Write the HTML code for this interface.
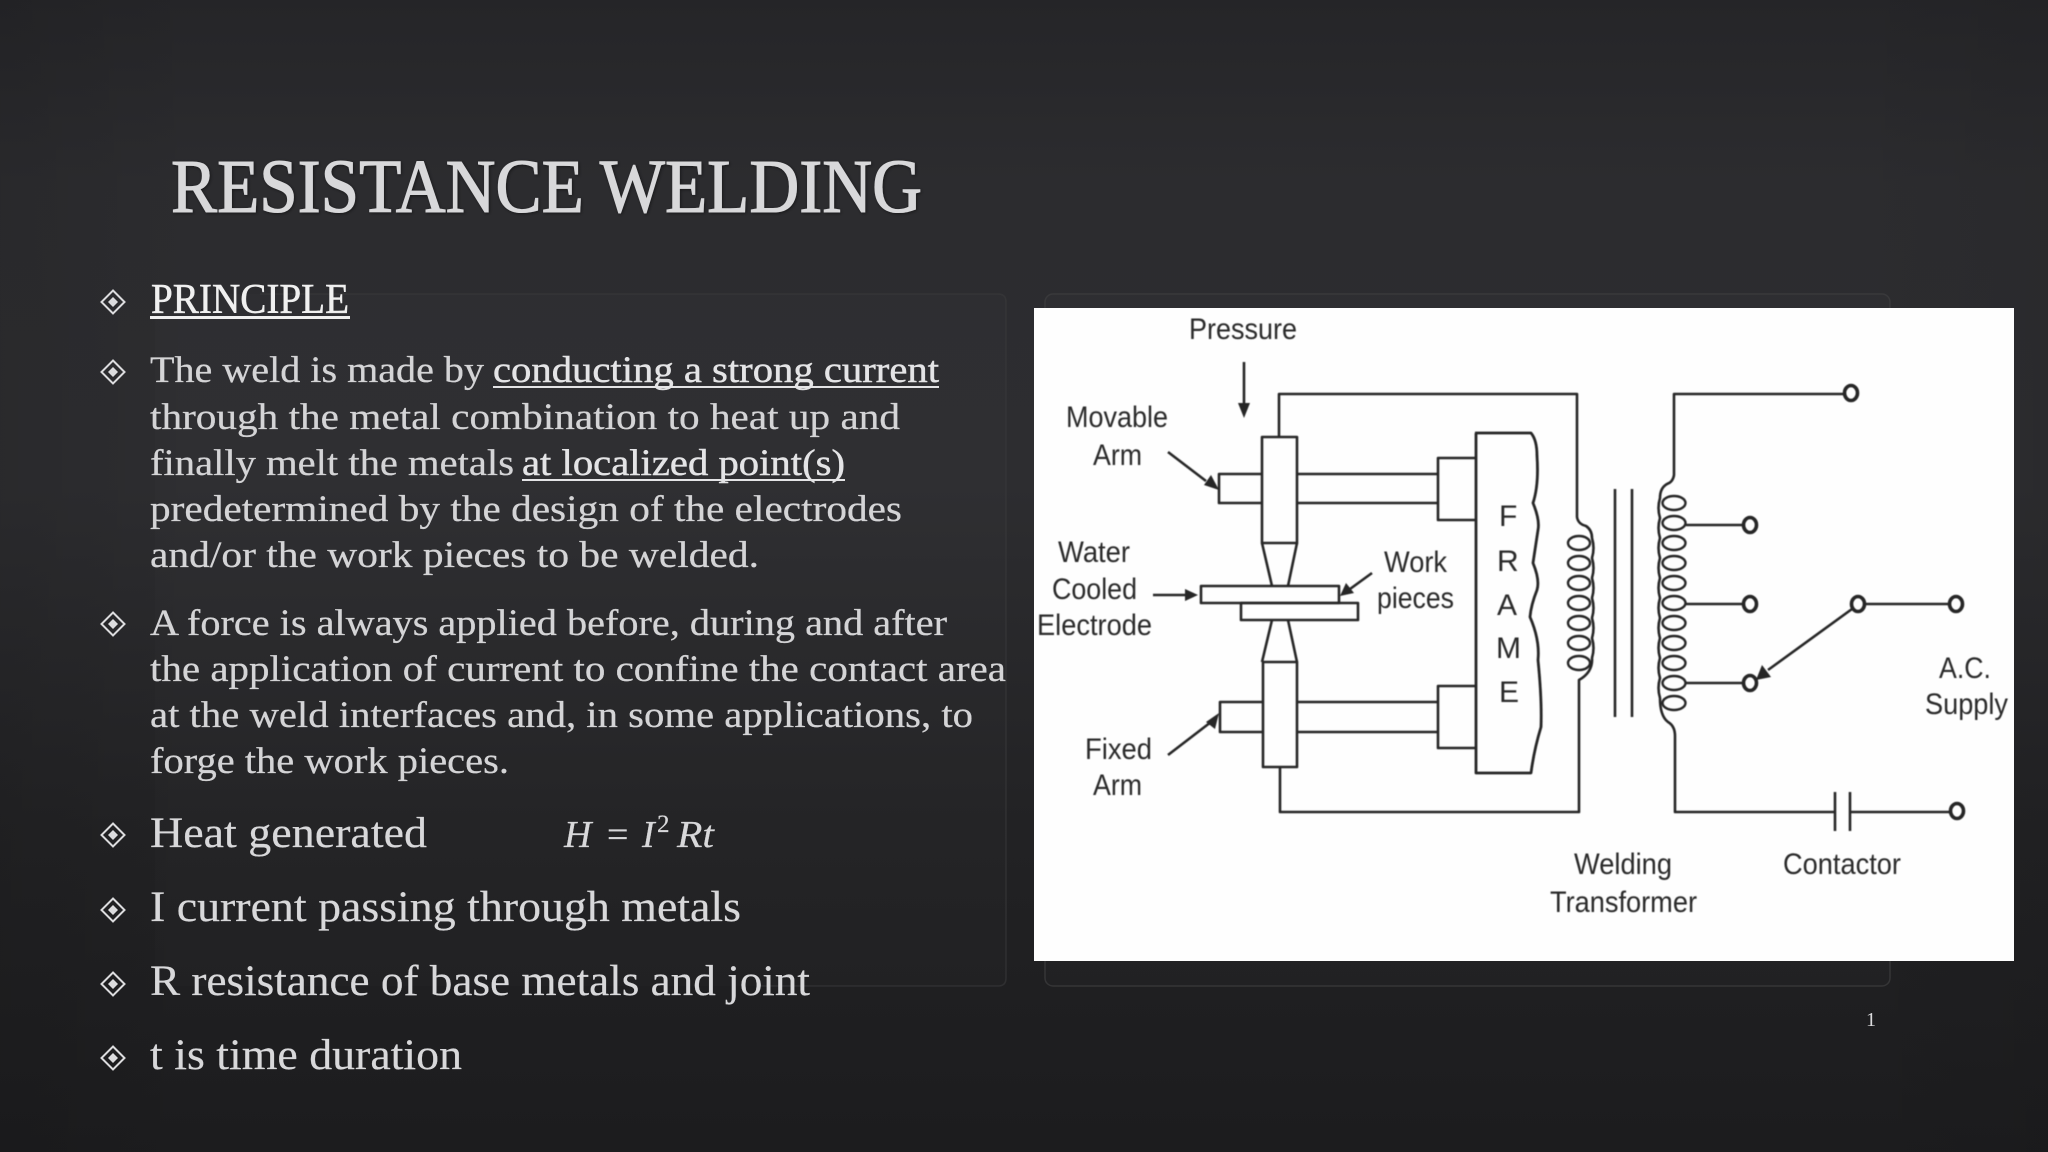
<!DOCTYPE html>
<html lang="en">
<head>
<meta charset="utf-8">
<title>Resistance Welding</title>
<style>
html,body{margin:0;padding:0;background:#222224}
svg{display:block}
.b{font-family:"Liberation Serif",serif;font-size:37px;fill:#d4d4d6;stroke:#d4d4d6;stroke-width:.25px}
.u{fill:#e4e4e6;stroke:#e4e4e6;stroke-width:.45px}
.h{font-family:"Liberation Serif",serif;font-size:43px;fill:#d8d8da;stroke:#d8d8da;stroke-width:.2px}
.d{font-family:"Liberation Sans",sans-serif;font-size:30px;fill:#2a2a2a;text-anchor:start}
</style>
</head>
<body>
<svg xmlns="http://www.w3.org/2000/svg" width="2048" height="1152" viewBox="0 0 2048 1152">
<defs>
<linearGradient id="bg" x1="0" y1="0" x2="0" y2="1">
<stop offset="0" stop-color="#252528"/>
<stop offset=".16" stop-color="#2c2c2f"/>
<stop offset=".42" stop-color="#2d2d30"/>
<stop offset=".72" stop-color="#222224"/>
<stop offset="1" stop-color="#1c1c1e"/>
</linearGradient>
<linearGradient id="vg" x1="0" y1="0" x2="1" y2="0">
<stop offset="0" stop-color="#000" stop-opacity=".08"/>
<stop offset=".1" stop-color="#000" stop-opacity="0"/>
<stop offset=".9" stop-color="#000" stop-opacity="0"/>
<stop offset="1" stop-color="#000" stop-opacity=".06"/>
</linearGradient>
<filter id="soft" x="-2%" y="-2%" width="104%" height="104%"><feGaussianBlur stdDeviation="0.6"/></filter>
<filter id="sh" x="-5%" y="-20%" width="110%" height="140%"><feDropShadow dx="1" dy="1" stdDeviation="1.5" flood-color="#000" flood-opacity=".45"/></filter>
<g id="dm"><path d="M0-11.5 11.5 0 0 11.5-11.5 0Z" fill="none" stroke="#dcdcde" stroke-width="2"/><path d="M0-5 5 0 0 5-5 0Z" fill="#dcdcde"/></g>
</defs>

<rect width="2048" height="1152" fill="url(#bg)"/>
<rect width="2048" height="1152" fill="url(#vg)"/>

<!-- faint panels -->
<rect x="155" y="294" width="851" height="692" rx="8" fill="#fff" fill-opacity=".012"/>
<path d="M260 294H998Q1006 294 1006 302V978Q1006 986 998 986H760" fill="none" stroke="#3a3a3c" stroke-opacity=".6" stroke-width="1.5"/>
<rect x="1045" y="294" width="845" height="692" rx="8" fill="#fff" fill-opacity=".012" stroke="#3e3e40" stroke-opacity=".7" stroke-width="1.5"/>

<!-- title -->
<text x="171" y="212" font-family="'Liberation Serif',serif" font-size="76" fill="#d8d8da" stroke="#d8d8da" stroke-width="1.1" textLength="751" lengthAdjust="spacingAndGlyphs" filter="url(#sh)">RESISTANCE WELDING</text>

<!-- bullets -->
<use href="#dm" x="113" y="302"/>
<use href="#dm" x="113" y="372"/>
<use href="#dm" x="113" y="624"/>
<use href="#dm" x="113" y="835"/>
<use href="#dm" x="113" y="910"/>
<use href="#dm" x="113" y="984"/>
<use href="#dm" x="113" y="1058"/>

<!-- heading -->
<text x="151" y="313" font-family="'Liberation Serif',serif" font-size="42" fill="#f0f0f0" stroke="#f0f0f0" stroke-width=".5" textLength="198" lengthAdjust="spacingAndGlyphs">PRINCIPLE</text>
<rect x="150" y="316" width="200" height="3" fill="#f0f0f0"/>

<!-- paragraph 1 -->
<text class="b" x="150" y="382" textLength="334" lengthAdjust="spacingAndGlyphs">The weld is made by</text>
<text class="b u" x="493" y="382" textLength="446" lengthAdjust="spacingAndGlyphs">conducting a strong current</text>
<rect x="493" y="386" width="446" height="2" fill="#e4e4e6"/>
<text class="b" x="150" y="429" textLength="750" lengthAdjust="spacingAndGlyphs">through the metal combination to heat up and</text>
<text class="b" x="150" y="475" textLength="364" lengthAdjust="spacingAndGlyphs">finally melt the metals</text>
<text class="b u" x="522" y="475" textLength="323" lengthAdjust="spacingAndGlyphs">at localized point(s)</text>
<rect x="522" y="479" width="323" height="2" fill="#e4e4e6"/>
<text class="b" x="150" y="521" textLength="752" lengthAdjust="spacingAndGlyphs">predetermined by the design of the electrodes</text>
<text class="b" x="150" y="567" textLength="609" lengthAdjust="spacingAndGlyphs">and/or the work pieces to be welded.</text>

<!-- paragraph 2 -->
<text class="b" x="150" y="635" textLength="797" lengthAdjust="spacingAndGlyphs">A force is always applied before, during and after</text>
<text class="b" x="150" y="681" textLength="856" lengthAdjust="spacingAndGlyphs">the application of current to confine the contact area</text>
<text class="b" x="150" y="727" textLength="823" lengthAdjust="spacingAndGlyphs">at the weld interfaces and, in some applications, to</text>
<text class="b" x="150" y="773" textLength="359" lengthAdjust="spacingAndGlyphs">forge the work pieces.</text>

<!-- variables -->
<text class="h" x="150" y="847" textLength="277" lengthAdjust="spacingAndGlyphs">Heat generated</text>
<text class="h" x="564" y="847" font-style="italic" style="font-size:38px">H</text>
<text class="h" x="607" y="847" style="font-size:38px">=</text>
<text class="h" x="642" y="847" font-style="italic" style="font-size:38px">I</text>
<text class="h" x="657" y="832" style="font-size:25px">2</text>
<text class="h" x="677" y="847" font-style="italic" style="font-size:38px" textLength="37" lengthAdjust="spacingAndGlyphs">Rt</text>
<text class="h" x="150" y="921" textLength="591" lengthAdjust="spacingAndGlyphs">I current passing through metals</text>
<text class="h" x="150" y="995" textLength="660" lengthAdjust="spacingAndGlyphs">R resistance of base metals and joint</text>
<text class="h" x="150" y="1069" textLength="312" lengthAdjust="spacingAndGlyphs">t is time duration</text>

<!-- page number -->
<text x="1866" y="1026" font-family="'Liberation Serif',serif" font-size="20" fill="#dcdcde">1</text>

<!-- diagram card -->
<rect x="1034" y="308" width="980" height="653" fill="#fefefe"/>

<g filter="url(#soft)">
<g fill="none" stroke="#262626" stroke-width="2.6" stroke-linejoin="round">
<!-- upper electrode + arm -->
<rect x="1262" y="437" width="35" height="106"/>
<path d="M1262 543 1272 586M1297 543 1288 586"/>
<path d="M1262 474H1219V503H1262M1297 474H1438M1297 503H1438"/>
<path d="M1475 458H1438V520H1475"/>
<!-- lower electrode + arm -->
<path d="M1272 620 1262 662M1288 620 1297 662"/>
<rect x="1263" y="662" width="34" height="105"/>
<path d="M1263 702H1220V732H1263M1297 702H1438M1297 732H1438"/>
<path d="M1475 686H1438V748H1475"/>
<!-- work pieces -->
<rect x="1201" y="586" width="138" height="17"/>
<rect x="1241" y="603" width="117" height="17"/>
<!-- frame -->
<path d="M1475 433H1531Q1537 440 1537 456Q1539 485 1533 503Q1540 520 1538 530Q1535 550 1533 563Q1540 580 1537 590Q1531 605 1530 617Q1540 640 1538 660Q1542 700 1541 727Q1534 750 1531 773H1476V433" stroke-width="2.8"/>
<!-- secondary circuit -->
<path d="M1279 437V394H1577V517Q1578 524 1586 526Q1592 530 1592 538q3 10 0 20q3 10 0 20q3 10 0 20q3 10 0 20q3 10 0 20q3 10 0 20q1 14 -13 22V812H1280V767"/>
<!-- primary circuit -->
<path d="M1844 394H1674V475Q1673 482 1667 484Q1660 488 1660 498q-3 10 0 20q-3 10 0 20q-3 10 0 20q-3 10 0 20q-3 10 0 20q-3 10 0 20q-3 10 0 20q-3 10 0 20q-3 10 0 20q-3 10 0 20Q1660 716 1668 722Q1675 726 1675 736V812H1835"/>
<!-- core -->
<path d="M1615 489V717M1632 489V717"/>
<!-- coils -->
<g stroke-width="2.4">
<ellipse cx="1579" cy="543" rx="11" ry="7"/><ellipse cx="1579" cy="563" rx="11" ry="7"/><ellipse cx="1579" cy="583" rx="11" ry="7"/><ellipse cx="1579" cy="603" rx="11" ry="7"/><ellipse cx="1579" cy="623" rx="11" ry="7"/><ellipse cx="1579" cy="643" rx="11" ry="7"/><ellipse cx="1579" cy="663" rx="11" ry="7"/>
<ellipse cx="1674" cy="503" rx="11.5" ry="7"/><ellipse cx="1674" cy="523" rx="11.5" ry="7"/><ellipse cx="1674" cy="543" rx="11.5" ry="7"/><ellipse cx="1674" cy="563" rx="11.5" ry="7"/><ellipse cx="1674" cy="583" rx="11.5" ry="7"/><ellipse cx="1674" cy="603" rx="11.5" ry="7"/><ellipse cx="1674" cy="623" rx="11.5" ry="7"/><ellipse cx="1674" cy="643" rx="11.5" ry="7"/><ellipse cx="1674" cy="663" rx="11.5" ry="7"/><ellipse cx="1674" cy="683" rx="11.5" ry="7"/><ellipse cx="1674" cy="703" rx="11.5" ry="7"/>
</g>
<!-- taps -->
<path d="M1686 525H1742M1686 604H1742M1686 683H1742M1866 604H1948"/>
<path d="M1835 792V831M1850 792V831M1850 812H1949"/>
<g stroke-width="3.6">
<ellipse cx="1851" cy="393" rx="6.5" ry="7.5"/>
<ellipse cx="1750" cy="525" rx="6.5" ry="7.5"/>
<ellipse cx="1750" cy="604" rx="6.5" ry="7.5"/>
<ellipse cx="1750" cy="683" rx="6.5" ry="7.5"/>
<ellipse cx="1858" cy="604" rx="6.5" ry="7.5"/>
<ellipse cx="1956" cy="604" rx="6.5" ry="7.5"/>
<ellipse cx="1957" cy="811" rx="6.5" ry="7.5"/>
</g>
<!-- arrow shafts -->
<path d="M1244 362V405M1168 452 1206 481M1153 595H1190M1372 573 1350 589M1168 755 1211 722M1852 609 1768 670"/>
</g>
<!-- arrow heads -->
<g fill="#262626">
<path d="M1238 403H1250L1244 418Z"/>
<path d="M1219 490 1204 485 1211 475Z"/>
<path d="M1198 595 1185 589V601Z"/>
<path d="M1340 596 1346 583 1354 593Z"/>
<path d="M1219 713 1215 729 1206 722Z"/>
<path d="M1756 680 1762 665 1771 677Z"/>
</g>
<!-- labels -->
<g>
<text class="d" x="1189" y="339" textLength="108" lengthAdjust="spacingAndGlyphs">Pressure</text>
<text class="d" x="1066" y="427" textLength="102" lengthAdjust="spacingAndGlyphs">Movable</text>
<text class="d" x="1093" y="465" textLength="49" lengthAdjust="spacingAndGlyphs">Arm</text>
<text class="d" x="1058" y="562" textLength="72" lengthAdjust="spacingAndGlyphs">Water</text>
<text class="d" x="1052" y="599" textLength="85" lengthAdjust="spacingAndGlyphs">Cooled</text>
<text class="d" x="1037" y="635" textLength="115" lengthAdjust="spacingAndGlyphs">Electrode</text>
<text class="d" x="1384" y="572" textLength="63" lengthAdjust="spacingAndGlyphs">Work</text>
<text class="d" x="1377" y="608" textLength="77" lengthAdjust="spacingAndGlyphs">pieces</text>
<text class="d" x="1085" y="759" textLength="67" lengthAdjust="spacingAndGlyphs">Fixed</text>
<text class="d" x="1093" y="795" textLength="49" lengthAdjust="spacingAndGlyphs">Arm</text>
<text class="d" x="1499" y="526">F</text>
<text class="d" x="1497" y="571">R</text>
<text class="d" x="1497" y="615">A</text>
<text class="d" x="1496" y="658">M</text>
<text class="d" x="1499" y="702">E</text>
<text class="d" x="1939" y="678" textLength="52" lengthAdjust="spacingAndGlyphs">A.C.</text>
<text class="d" x="1925" y="714" textLength="83" lengthAdjust="spacingAndGlyphs">Supply</text>
<text class="d" x="1574" y="874" textLength="98" lengthAdjust="spacingAndGlyphs">Welding</text>
<text class="d" x="1550" y="912" textLength="147" lengthAdjust="spacingAndGlyphs">Transformer</text>
<text class="d" x="1783" y="874" textLength="118" lengthAdjust="spacingAndGlyphs">Contactor</text>
</g>
</g>
</svg>
</body>
</html>
